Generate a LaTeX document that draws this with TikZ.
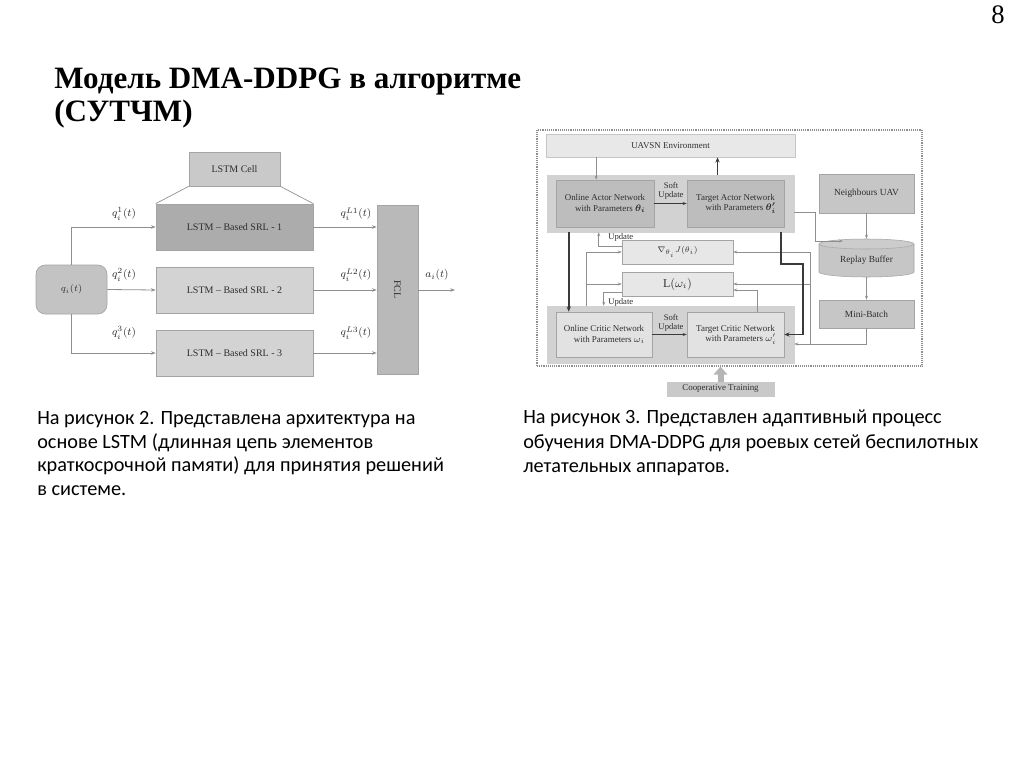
\documentclass[tikz,border=0pt]{standalone}
\usepackage{amsmath}
\usepackage{fontspec}
\setmainfont{Liberation Serif}
\newfontfamily\parafont{Carlito}
\usetikzlibrary{arrows.meta,calc}
\definecolor{lnc}{HTML}{8E8E8E}
\definecolor{bdr}{HTML}{A4A4A4}
\definecolor{dk}{HTML}{3A3A3A}
\definecolor{txt}{HTML}{2E2E2E}
\definecolor{fcell}{HTML}{C9C9C9}
\definecolor{fsrla}{HTML}{ACACAC}
\definecolor{fsrlb}{HTML}{D3D3D3}
\definecolor{ffcl}{HTML}{B9B9B9}
\definecolor{fq}{HTML}{C3C3C3}
\definecolor{fenv}{HTML}{E8E8E8}
\definecolor{fband}{HTML}{D2D2D2}
\definecolor{factor}{HTML}{BDBDBD}
\definecolor{fcritic}{HTML}{E2E2E2}
\definecolor{fside}{HTML}{C6C6C6}
\definecolor{floss}{HTML}{E7E7E7}
\definecolor{fcoop}{HTML}{C9C9C9}
\begin{document}
\begin{tikzpicture}[x=0.75pt,y=-0.75pt,
  lbox/.style={inner sep=0pt, draw=bdr, line width=0.5pt, align=center, text=txt, font=\fontsize{7.5}{9}\selectfont},
  rbox/.style={inner sep=0pt, draw=bdr, line width=0.4pt, align=center, text=txt, font=\fontsize{6.7}{7.9}\selectfont},
  lab/.style={inner sep=0pt, text=txt, font=\fontsize{8}{9}\selectfont},
  slab/.style={inner sep=0pt, text=txt, align=center, font=\fontsize{6.5}{7.3}\selectfont},
  arr/.style={draw=lnc, line width=0.6pt, -{Stealth[length=3.5pt,width=2.6pt]}},
  tarr/.style={draw=lnc, line width=0.5pt, -{Stealth[length=3pt,width=2.2pt]}},
  thk/.style={draw=dk, line width=1.2pt, -{Stealth[length=4pt,width=3.2pt]}},
  ttl/.style={anchor=base west, inner sep=0pt, font=\bfseries\fontsize{23.3}{26}\selectfont},
  para/.style={anchor=base west, inner sep=0pt, font=\parafont\fontsize{15.2}{18}\selectfont}
]
\useasboundingbox (0,0) rectangle (1024,767);
\fill[white] (0,0) rectangle (1024,767);

% page number and title
\node[anchor=base west, inner sep=0pt, font=\fontsize{20}{22}\selectfont] (pnum) at (991,24) {8};
\node[ttl] (t1) at (54,89) {Модель DMA-DDPG в алгоритме};
\node[ttl] (t2) at (54,122) {(СУТЧМ)};

% ---------- left diagram ----------
\node[lbox, fill=fcell, minimum width=68.25pt, minimum height=25.5pt] (cell) at (234.5,169) {LSTM Cell};
\node[lbox, fill=fsrla, minimum width=117.75pt, minimum height=34.5pt] (srl1) at (234.5,227) {LSTM -- Based SRL - 1};
\node[lbox, fill=fsrlb, minimum width=117.75pt, minimum height=34.5pt] (srl2) at (234.5,290) {LSTM -- Based SRL - 2};
\node[lbox, fill=fsrlb, minimum width=117.75pt, minimum height=34.5pt] (srl3) at (234.5,353) {LSTM -- Based SRL - 3};
\node[lbox, fill=fq, rounded corners=7pt, minimum width=53.25pt, minimum height=36.75pt] (qin) at (71.5,289.5) {$q_i(t)$};
\node[lbox, fill=ffcl, minimum width=30.75pt, minimum height=126.75pt] (fcl) at (397.5,289.5) {};
\node[lab, rotate=-90, font=\fontsize{7.5}{9}\selectfont] (fcltxt) at (fcl.center) {FCL};
\draw[draw=lnc, line width=0.5pt] (cell.south west) -- (srl1.north west);
\draw[draw=lnc, line width=0.5pt] (cell.south east) -- (srl1.north east);

\draw[arr] (qin.north) |- (srl1.west);
\draw[arr] (qin.east) -- (srl2.west);
\draw[arr] (qin.south) |- (srl3.west);
\draw[arr] (srl1.east) -- (srl1.east -| fcl.west);
\draw[arr] (srl2.east) -- (srl2.east -| fcl.west);
\draw[arr] (srl3.east) -- (srl3.east -| fcl.west);
\coordinate (aout) at (455,290);
\draw[arr] (fcl.east |- aout) -- (aout);

\node[lab] (lq1) at (124,214) {$q_i^1(t)$};
\node[lab] (lq2) at (124,275) {$q_i^2(t)$};
\node[lab] (lq3) at (124,333) {$q_i^3(t)$};
\node[lab] (lo1) at (356,214) {$q_i^{L1}(t)$};
\node[lab] (lo2) at (356,275) {$q_i^{L2}(t)$};
\node[lab] (lo3) at (356,333) {$q_i^{L3}(t)$};
\node[lab] (la) at (437,275) {$a_i(t)$};

% ---------- right diagram ----------
\node[inner sep=0pt, draw=lnc, line width=0.8pt, dash pattern=on 0.7pt off 0.7pt, minimum width=288.75pt, minimum height=177pt] (frame) at (729.5,248) {};
\node[rbox, fill=fenv, draw=fenv!85!black, minimum width=186.75pt, minimum height=17.25pt] (env) at (670.5,145.5) {UAVSN Environment};
\node[rbox, fill=fband, draw=fband, minimum width=185.25pt, minimum height=42.75pt] (aband) at (670.5,203.5) {};
\node[rbox, fill=factor, minimum width=73.5pt, minimum height=35.25pt] (oa) at (605,203.5) {Online Actor Network\\\hspace*{8pt}with Parameters $\boldsymbol{\theta_i}$};
\node[rbox, fill=factor, minimum width=72.75pt, minimum height=35.25pt] (ta) at (735.5,203.5) {Target Actor Network\\\hspace*{8pt}with Parameters $\boldsymbol{\theta'_i}$};
\node[slab] (sua) at (671,191) {Soft\\Update};
\node[rbox, fill=fband, draw=fband, minimum width=185.25pt, minimum height=42.75pt] (cband) at (670.5,334.5) {};
\node[rbox, fill=fcritic, minimum width=72pt, minimum height=33.75pt] (oc) at (604,334.5) {Online Critic Network\\\hspace*{8pt}with Parameters $\omega_i$};
\node[rbox, fill=fcritic, minimum width=72.75pt, minimum height=33.75pt] (tc) at (735.5,334.5) {Target Critic Network\\\hspace*{8pt}with Parameters $\omega'_i$};
\node[slab] (suc) at (671,323) {Soft\\Update};
\node[rbox, fill=fside, minimum width=71.25pt, minimum height=29.25pt, font=\fontsize{7}{8}\selectfont] (nb) at (866.5,193.5) {Neighbours UAV};
\node[rbox, fill=fside, minimum width=71.25pt, minimum height=21pt, font=\fontsize{7}{8}\selectfont] (mb) at (866.5,314) {Mini-Batch};
\node[rbox, fill=floss, minimum width=83.25pt, minimum height=18pt, font=\fontsize{6.5}{8}\selectfont] (gj) at (677.5,252) {$\nabla_{\theta_i} J(\theta_i)$};
\node[rbox, fill=floss, minimum width=83.25pt, minimum height=18pt, font=\fontsize{9}{10}\selectfont] (lw) at (677.5,284) {$\mathrm{L}(\omega_i)$};
\node[rbox, fill=fcoop, draw=fcoop, minimum width=80.25pt, minimum height=10.5pt] (coop) at (720.5,389) {Cooperative Training};

% replay buffer cylinder
\fill[fside] (819,244) -- (819,272) arc[start angle=180, end angle=360, x radius=47.5, y radius=-5] -- (914,244) arc[start angle=0, end angle=180, x radius=47.5, y radius=5] -- cycle;
\draw[bdr, line width=0.4pt] (819,244) -- (819,272) arc[start angle=180, end angle=360, x radius=47.5, y radius=-5] -- (914,244);
\draw[bdr, line width=0.4pt, fill=fside!90!white] (866.5,244) ellipse[x radius=47.5, y radius=5];
\node[inner sep=0pt, minimum width=71.25pt, minimum height=28.5pt, text=txt, font=\fontsize{7}{8}\selectfont] (rb) at (866.5,260) {Replay Buffer};

% connectors
\coordinate (c1) at ($(oa.north west)!0.41!(oa.north east)$);
\draw[tarr] (c1 |- env.south) -- (c1);
\coordinate (c2) at ($(aband.north west)!0.69!(aband.north east)$);
\draw[thk] (c2) -- (c2 |- env.south);
\draw[tarr, draw=dk, line width=0.6pt] (oa.east) -- (ta.west);
\draw[tarr, draw=dk, line width=0.6pt] (oc.east) -- (tc.west);

\coordinate (rbin) at (843,241);
\draw[tarr] ($(aband.east)+(0,9)$) -| ($(rbin)+(-28,0)$) -- (rbin);
\draw[tarr] (nb.south) -- ($(rb.north)+(0,-2)$);
\draw[tarr] ($(rb.south)+(0,-2)$) -- (mb.north);
\coordinate (j1) at (810,344);
\draw[tarr] (mb.south) |- ($(cband.east)+(0,9.5)$);
\draw[tarr] (j1) |- (gj.east);
\draw[tarr] (j1 |- lw.east) -- (lw.east);
\coordinate (c3) at ($(tc.north west)!0.72!(tc.north east)$);
\draw[tarr] (c3) |- ($(lw.east)+(0,6)$);

\coordinate (c4) at ($(cband.north west)+(40,0)$);
\draw[tarr] (c4) |- (gj.west);
\draw[tarr] (c4) |- (lw.west);
\draw[tarr] ($(gj.west)+(0,-6)$) -| ($(aband.south west)+(52,0)$);
\node[slab, anchor=west] (up1) at (608,237) {Update};
\draw[tarr] ($(lw.west)+(0,8)$) -| ($(cband.north west)+(57,0)$);
\node[slab, anchor=west] (up2) at (608,302) {Update};

\draw[thk] ($(aband.south west)+(22,0)$) -- ($(oc.north west)+(13,0)$);
\coordinate (k1) at (803,264);
\draw[thk] ($(aband.south west)+(234,0)$) |- (k1) |- (tc.east);

\draw[-{Triangle[length=6pt,width=10pt]}, line width=4.5pt, draw=fcoop!90!black] (coop.north) -- (coop.north |- frame.south);

% ---------- paragraphs ----------
\node[para] (p1) at (37,424) {На рисунок 2. Представлена архитектура на};
\node[para] (p2) at (37,448) {основе LSTM (длинная цепь элементов};
\node[para] (p3) at (37,471) {краткосрочной памяти) для принятия решений};
\node[para] (p4) at (37,495) {в системе.};
\node[para] (r1) at (523,423) {На рисунок 3. Представлен адаптивный процесс};
\node[para] (r2) at (523,448) {обучения DMA-DDPG для роевых сетей беспилотных};
\node[para] (r3) at (523,472) {летательных аппаратов.};
\end{tikzpicture}
\end{document}
